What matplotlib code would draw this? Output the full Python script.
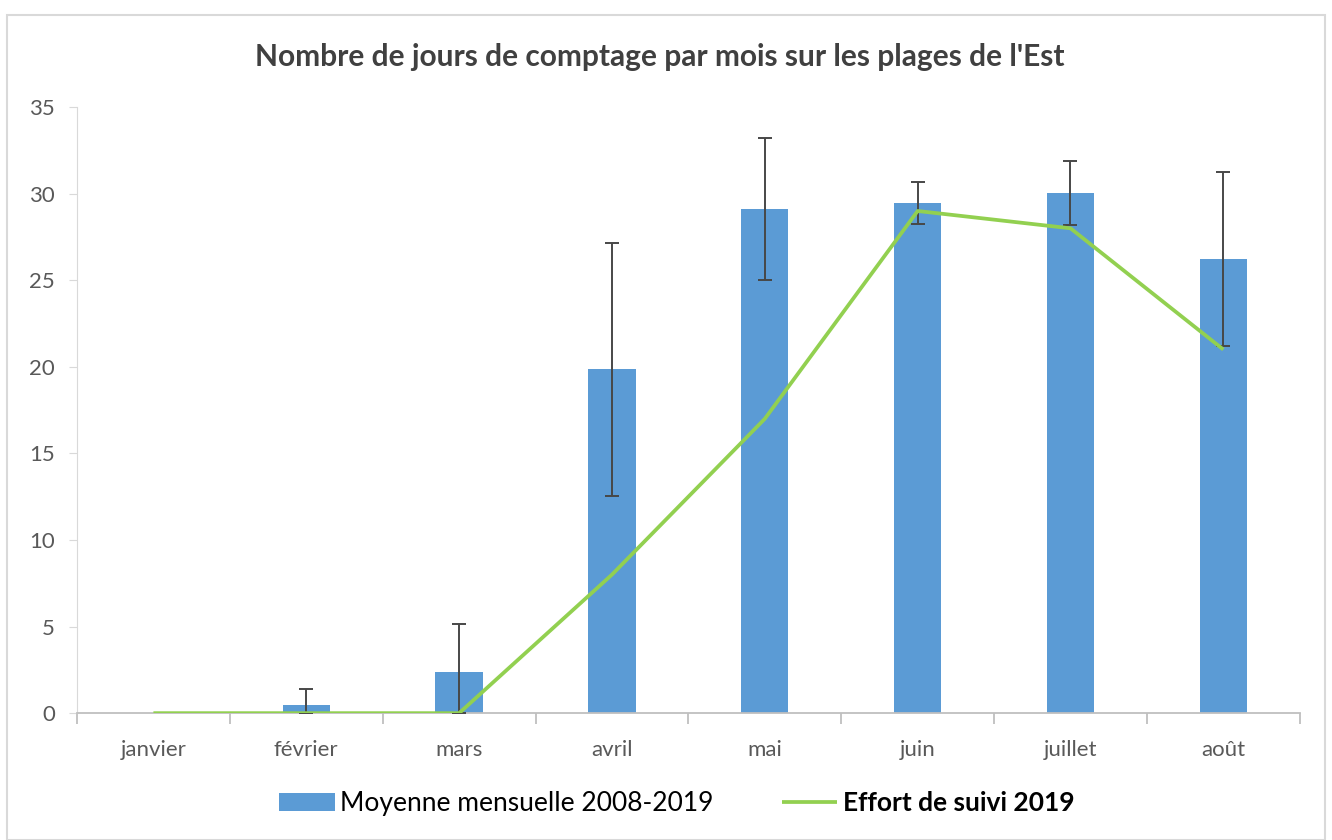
import matplotlib.pyplot as plt
import numpy as np

mois = ['janvier', 'février', 'mars', 'avril', 'mai', 'juin', 'juillet', 'août']
moyenne = [0, 0.5, 2.35, 19.85, 29.1, 29.45, 30.05, 26.2]
err_haut = [0, 0.9, 2.8, 7.3, 4.1, 1.2, 1.85, 5.05]
err_bas = [0, 0.5, 2.35, 7.3, 4.1, 1.2, 1.85, 5.0]
effort_2019 = [0, 0, 0, 8, 17, 29, 28, 21]

plt.rcParams['font.family'] = ['Lato', 'DejaVu Sans']

fig = plt.figure(figsize=(13.32, 8.4), dpi=100)
ax = fig.add_axes([0.0578, 0.151, 0.918, 0.7215])

x = np.arange(len(mois))
barres = ax.bar(x, moyenne, width=0.31, color='#5B9BD5', zorder=2,
                label='Moyenne mensuelle 2008-2019')
ax.errorbar(x[1:], moyenne[1:], yerr=[err_bas[1:], err_haut[1:]], fmt='none',
            ecolor='#474747', elinewidth=1.4, capsize=5, capthick=1.4, zorder=3)
ligne, = ax.plot(x, effort_2019, color='#92D050', lw=2.7, zorder=4,
                 label='Effort de suivi 2019', solid_capstyle='butt')

ax.set_xlim(-0.5, 7.5)
ax.set_ylim(0, 35)
ax.set_yticks(range(0, 36, 5))
ax.set_xticks(x)
ax.set_xticklabels(mois)
ax.set_xticks(np.arange(-0.5, 8, 1), minor=True)

for s in ['top', 'right']:
    ax.spines[s].set_visible(False)
ax.spines['left'].set_color('#d9d9d9')
ax.spines['bottom'].set_color('#bfbfbf')
ax.spines['bottom'].set_linewidth(1.3)

ax.tick_params(axis='y', colors='#595959', labelsize=16, length=6, color='#d9d9d9', pad=10)
ax.tick_params(axis='x', which='major', length=0, labelsize=16, colors='#595959', pad=19)
ax.tick_params(axis='x', which='minor', length=8, color='#bfbfbf', width=1.3)

# titre un peu décalé vers la gauche, comme dans Excel
fig.text(0.495, 0.932, "Nombre de jours de comptage par mois sur les plages de l'Est",
         fontsize=21.5, fontweight='bold', color='#404040', ha='center', va='center')

leg = fig.legend([barres, ligne], ['Moyenne mensuelle 2008-2019', 'Effort de suivi 2019'],
                 loc='lower center', bbox_to_anchor=(0.508, 0.0), ncol=2,
                 frameon=False, fontsize=19, handlelength=2.1, handletextpad=0.2,
                 columnspacing=2.6)
leg.get_texts()[1].set_fontweight('bold')

border = plt.Rectangle((0.005, 0.0), 0.99, 0.982, transform=fig.transFigure,
                       fill=False, edgecolor='#d9d9d9', lw=1.5)
fig.patches.append(border)

fig.savefig('out.png', dpi=100)
